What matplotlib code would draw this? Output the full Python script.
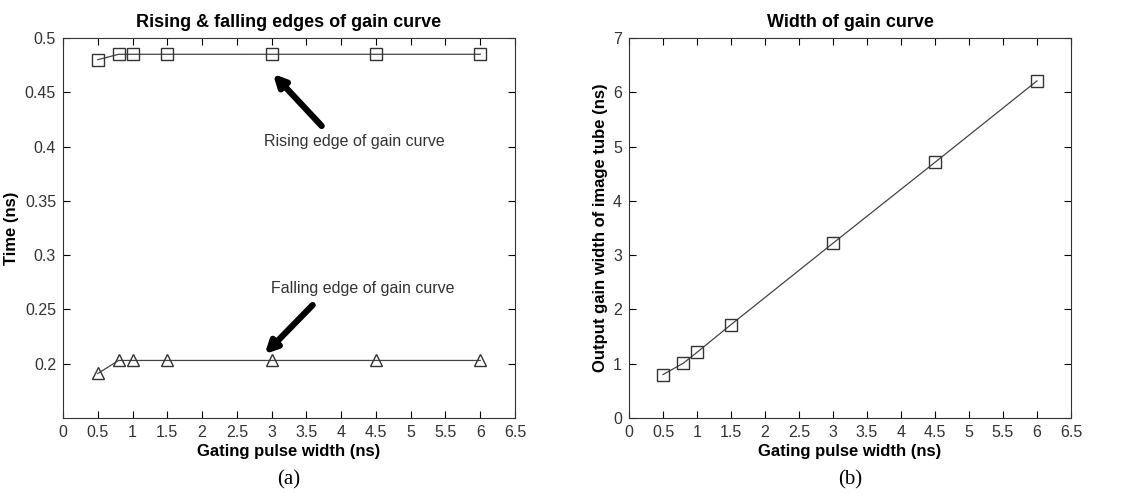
import numpy as np
from matplotlib import pyplot as plt

# gating pulse width (ns)
pulse = [0.5, 0.8, 1.0, 1.5, 3.0, 4.5, 6.0]

# (a) rising / falling edges (ns)
rising = [0.480, 0.485, 0.485, 0.485, 0.485, 0.485, 0.485]
falling = [0.191, 0.203, 0.203, 0.203, 0.203, 0.203, 0.203]

# (b) output gain width (ns)
width = [0.80, 1.01, 1.21, 1.72, 3.22, 4.71, 6.21]

xticks = np.arange(0, 6.51, 0.5)
xticklabels = ["0", "0.5", "1", "1.5", "2", "2.5", "3", "3.5", "4", "4.5", "5", "5.5", "6", "6.5"]

plt.rcParams['font.family'] = ['Liberation Sans', 'DejaVu Sans']

fig = plt.figure(figsize=(11.34, 4.97), dpi=100)
W, H = 1134, 497
ax1 = fig.add_axes([63 / W, 1 - 418 / H, (515 - 63) / W, (418 - 38) / H])
ax2 = fig.add_axes([629 / W, 1 - 418 / H, (1071 - 629) / W, (418 - 38) / H])

line_kw = dict(color="#444444", lw=0.9, markerfacecolor="none",
               markeredgecolor="#333333", markersize=8.5, markeredgewidth=1.0)

ax1.plot(pulse, rising, marker="s", **line_kw)
ax1.plot(pulse, falling, marker="^", **line_kw)
ax1.set_ylim(0.15, 0.5)
ax1.set_yticks([0.2, 0.25, 0.3, 0.35, 0.4, 0.45, 0.5])
ax1.set_yticklabels(["0.2", "0.25", "0.3", "0.35", "0.4", "0.45", "0.5"])
ax1.set_title("Rising & falling edges of gain curve", fontsize=13, fontweight="bold", pad=8)
ax1.set_ylabel("Time (ns)", fontsize=12, fontweight="bold")

arrow_kw = dict(arrowstyle="-|>,head_length=0.7,head_width=0.35", lw=4.5, color="black",
                shrinkA=0, shrinkB=0)
ax1.annotate("", xy=(3.02, 0.467), xytext=(3.72, 0.419), arrowprops=arrow_kw)
ax1.text(2.89, 0.4045, "Rising edge of gain curve", fontsize=11.5, va="center", color="#333333")
ax1.annotate("", xy=(2.90, 0.2088), xytext=(3.59, 0.254), arrowprops=arrow_kw)
ax1.text(2.99, 0.2695, "Falling edge of gain curve", fontsize=11.5, va="center", color="#333333")

ax2.plot(pulse, width, marker="s", **line_kw)
ax2.set_ylim(0, 7)
ax2.set_yticks(range(8))
ax2.set_title("Width of gain curve", fontsize=13, fontweight="bold", pad=8)
ax2.set_ylabel("Output gain width of image tube (ns)", fontsize=12, fontweight="bold")

for ax, tag in [(ax1, "(a)"), (ax2, "(b)")]:
    ax.set_xlim(0, 6.5)
    ax.set_xticks(xticks)
    ax.set_xticklabels(xticklabels)
    ax.tick_params(direction="in", top=True, right=True, labelsize=11.5, length=5,
                   labelcolor="#333333", pad=5)
    ax.set_xlabel("Gating pulse width (ns)", fontsize=12, fontweight="bold", labelpad=3)
    for s in ax.spines.values():
        s.set_color("#333333")
    ax.text(0.5, -0.163, tag, transform=ax.transAxes, ha="center", va="center",
            fontsize=15, family="Liberation Serif")

fig.savefig("out.png", dpi=100)
